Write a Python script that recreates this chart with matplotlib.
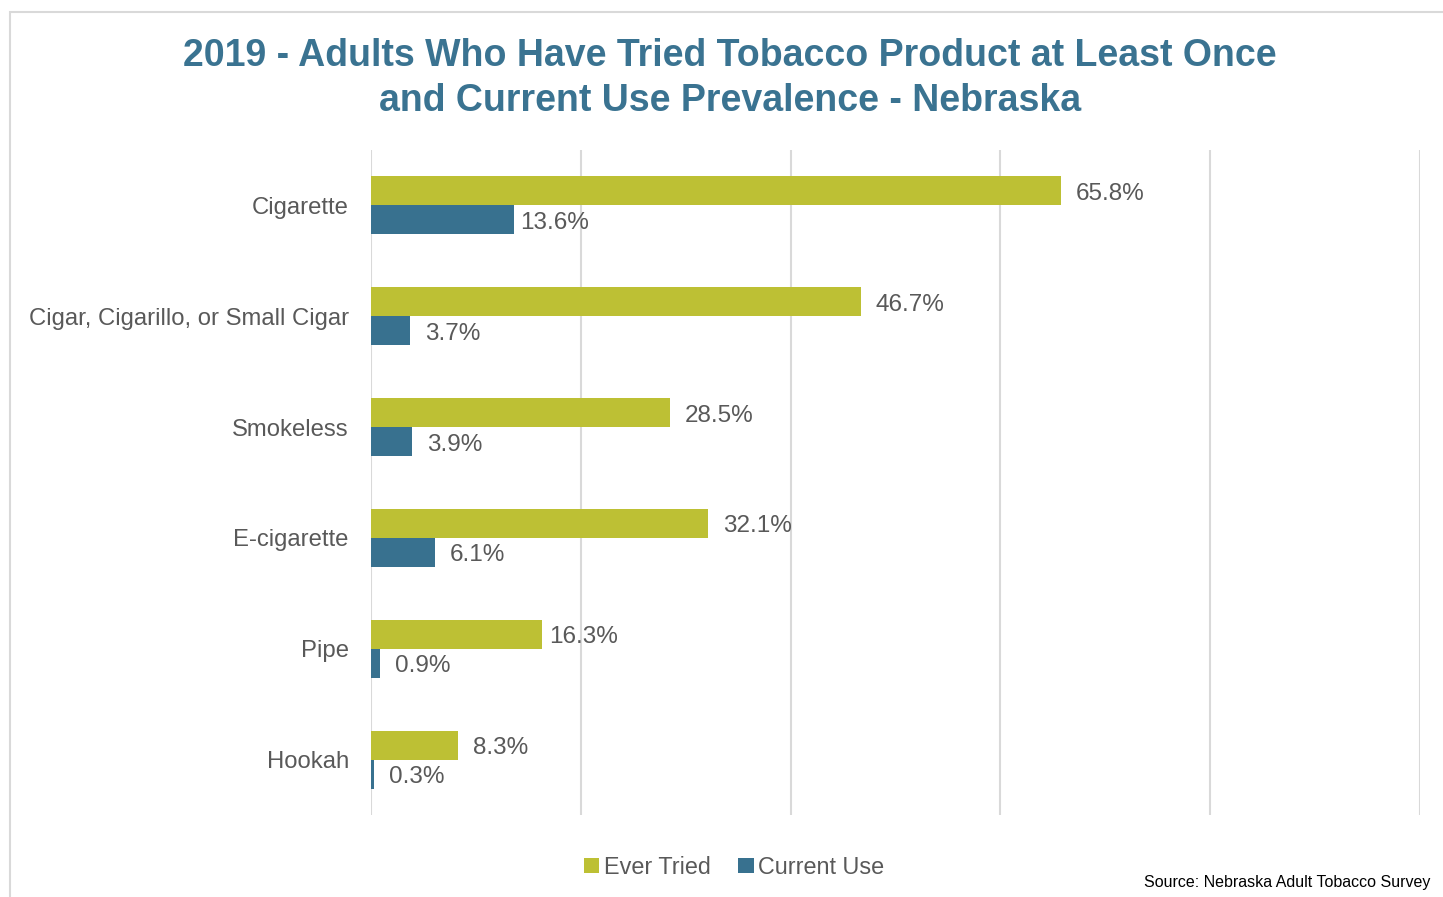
import matplotlib.pyplot as plt
import numpy as np
from matplotlib.patches import Rectangle

plt.rcParams['font.family'] = ['Liberation Sans', 'DejaVu Sans']

# data
products = ["Cigarette", "Cigar, Cigarillo, or Small Cigar", "Smokeless",
            "E-cigarette", "Pipe", "Hookah"]
ever_tried = [65.8, 46.7, 28.5, 32.1, 16.3, 8.3]
current_use = [13.6, 3.7, 3.9, 6.1, 0.9, 0.3]

GREEN = "#BDC034"
BLUE = "#38718F"
TITLE = "#3A7391"
TEXT = "#595959"
GRID = "#D9D9D9"

fig = plt.figure(figsize=(14.43, 8.97), dpi=100)
ax = fig.add_axes([371/1443, 1-815/897, (1420-371)/1443, (815-150)/897])

# outer chart border
fig.patches.append(Rectangle((10/1443, -0.1), 1.2, 1.1-12/897, transform=fig.transFigure,
                             fill=False, edgecolor="#D9D9D9", linewidth=1.5))

y = np.arange(len(products))
h = 0.262
ax.barh(y - h/2, ever_tried, height=h, color=GREEN, label="Ever Tried")
ax.barh(y + h/2, current_use, height=h, color=BLUE, label="Current Use")

for i in range(len(products)):
    off = 7 if ever_tried[i] == 16.3 else 15
    ax.annotate(f"{ever_tried[i]}%", (ever_tried[i], y[i] - h/2), xytext=(off, -3),
                textcoords="offset pixels", va="center", ha="left", fontsize=17.5, color=TEXT)
    off = 6 if current_use[i] == 13.6 else 15
    ax.annotate(f"{current_use[i]}%", (current_use[i], y[i] + h/2), xytext=(off, -3),
                textcoords="offset pixels", va="center", ha="left", fontsize=17.5, color=TEXT)

ax.set_xlim(0, 100)
ax.set_ylim(len(products) - 0.5, -0.5)
ax.set_xticks(range(0, 101, 20))
ax.set_xticklabels([])
ax.set_yticks(y)
ax.set_yticklabels(products, fontsize=17.2, color=TEXT)
ax.tick_params(length=0, pad=16)
ax.grid(axis="x", color=GRID, linewidth=1.5)
ax.set_axisbelow(True)
for s in ax.spines.values():
    s.set_visible(False)

fig.text(730/1443, 1-78.5/897, "2019 - Adults Who Have Tried Tobacco Product at Least Once\nand Current Use Prevalence - Nebraska",
         ha="center", va="center", fontsize=27, fontweight="bold", color=TITLE, linespacing=1.3)

fig.legend(loc="center", bbox_to_anchor=(734/1443, 1-867/897), ncol=2, frameon=False,
           fontsize=16.8, labelcolor=TEXT, handlelength=0.65, handleheight=0.65,
           handletextpad=0.2, columnspacing=1.2)

fig.text(1430/1443, 1-882/897, "Source: Nebraska Adult Tobacco Survey", ha="right", va="center",
         fontsize=11.5, color="black")

fig.savefig("out.png", dpi=100)
